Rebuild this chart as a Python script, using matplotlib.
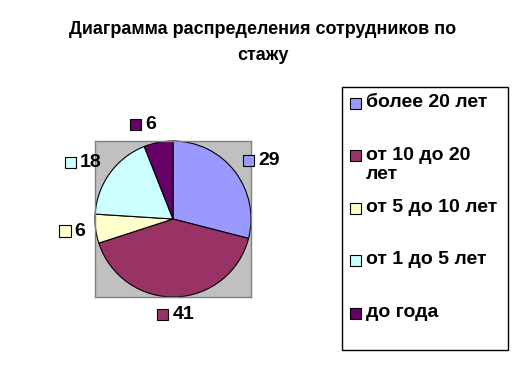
import matplotlib
matplotlib.use("Agg")
import matplotlib.pyplot as plt
from matplotlib.patches import Rectangle
from matplotlib.offsetbox import AnnotationBbox, HPacker, TextArea, DrawingArea
import numpy as np

plt.rcParams['font.family'] = ['Liberation Sans', 'DejaVu Sans']

# data
categories = ["более 20 лет", "от 10 до 20\nлет", "от 5 до 10 лет", "от 1 до 5 лет", "до года"]
values = [29, 41, 6, 18, 6]
colors = ["#9999FF", "#993366", "#FFFFCC", "#CCFFFF", "#660066"]
title_lines = ["Диаграмма распределения сотрудников по", "стажу"]

W, H = 519, 371
fig = plt.figure(figsize=(W / 100, H / 100), dpi=100)

def px(x0, y0, x1, y1):
    # pixel box (top-left origin) -> figure fraction
    return [x0 / W, 1 - y1 / H, (x1 - x0) / W, (y1 - y0) / H]

for i, line in enumerate(title_lines):
    fig.text(263 / W, 1 - (29 + 27 * i) / H, line, ha="center", va="center",
             fontsize=13, fontweight="bold")

# pie with grey plot area
ax = fig.add_axes(px(95, 141, 251, 297))
wedges, _ = ax.pie(values, colors=colors, startangle=90, counterclock=False,
                   radius=1, frame=True,
                   wedgeprops=dict(edgecolor="black", linewidth=0.8))
ax.set_facecolor("#C0C0C0")
ax.patch.set_visible(True)
for s in ax.spines.values():
    s.set_visible(True)
    s.set_color("#808080")
    s.set_linewidth(1)
ax.set_xlim(-1, 1)
ax.set_ylim(-1, 1)
ax.set_aspect("equal")
ax.set_xticks([])
ax.set_yticks([])

# data labels with legend key
for w, v, c in zip(wedges, values, colors):
    ang = np.deg2rad((w.theta1 + w.theta2) / 2)
    cx, cy = np.cos(ang), np.sin(ang)
    pos = (1.13 * cx, 1.23 * cy)
    if cx > 0.1:
        align = (0, 0.5)
    elif cx < -0.1:
        align = (1, 0.5)
    else:
        align = (0.5, 0.5)
    da = DrawingArea(8, 8, 0, 0)
    da.add_artist(Rectangle((0, 0), 8, 8, facecolor=c, edgecolor="black", linewidth=0.8))
    ta = TextArea(str(v), textprops=dict(fontsize=14, fontweight="bold"))
    box = HPacker(children=[da, ta], align="center", pad=0, sep=3)
    ab = AnnotationBbox(box, pos, xycoords="data", box_alignment=align,
                        frameon=False, annotation_clip=False)
    ax.add_artist(ab)

# legend box
fig.patches.append(Rectangle((342 / W, 1 - 350 / H), 166 / W, 263 / H,
                             transform=fig.transFigure, facecolor="white",
                             edgecolor="black", linewidth=1))
for i, (lab, c) in enumerate(zip(categories, colors)):
    yc = 103 + 52.5 * i
    fig.patches.append(Rectangle((350 / W, 1 - (yc + 5.5) / H), 11 / W, 11 / H,
                                 transform=fig.transFigure, facecolor=c,
                                 edgecolor="black", linewidth=0.8))
    fig.text(366 / W, 1 - (yc - 9) / H, lab, ha="left", va="top",
             fontsize=14, fontweight="bold", linespacing=1.2)

fig.savefig("out.png", dpi=100)
